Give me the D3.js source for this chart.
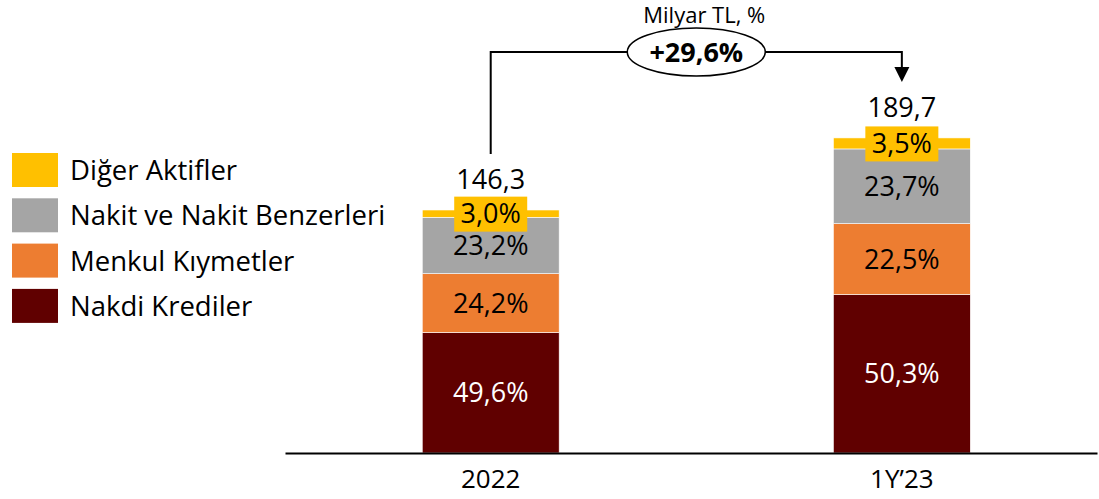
<!DOCTYPE html>
<html>
<head>
<meta charset="utf-8">
<script src="https://cdn.jsdelivr.net/npm/d3@7"></script>
<style>
  html, body { margin: 0; padding: 0; background: #fff; }
  text { font-family: "Open Sans", "Noto Sans", sans-serif; }
</style>
</head>
<body>
<svg id="chart" width="1099" height="499"></svg>
<script>
// chart data
const categories = ["2022", "1Y’23"];
const totals = [146.3, 189.7];
const seriesNames = ["Nakdi Krediler", "Menkul Kıymetler", "Nakit ve Nakit Benzerleri", "Diğer Aktifler"];
const nakdiKrediler = [49.6, 50.3];
const menkulKiymetler = [24.2, 22.5];
const nakitBenzerleri = [23.2, 23.7];
const digerAktifler = [3.0, 3.5];
const seriesColors = ["#600000", "#ED7D31", "#A5A5A5", "#FFC000"];
const unitLabel = "Milyar TL, %";
const growthLabel = "+29,6%";

const shares = [nakdiKrediler, menkulKiymetler, nakitBenzerleri, digerAktifler];

const tr = d3.formatLocale({decimal: ",", thousands: ".", grouping: [3], currency: ["", " TL"]});
const fmt1 = tr.format(".1f");

// rows for d3.stack: amount of each series = total * share
const rows = categories.map((c, i) => {
    let row = {cat: c, total: totals[i]};
    seriesNames.forEach((s, j) => {
        row[s] = totals[i] * shares[j][i] / 100;
        row[s + "_pct"] = shares[j][i];
    });
    return row;
});

const stacked = d3.stack().keys(seriesNames)(rows);

const svg = d3.select("#chart");
const baseY = 453;

const x = d3.scaleBand()
    .domain(categories)
    .range([285, 1097])
    .paddingInner(0.667)
    .paddingOuter(0.321)
    .align(0.52);

const y = d3.scaleLinear()
    .domain([0, 200])
    .range([baseY, baseY - 332.2]);

const color = d3.scaleOrdinal().domain(seriesNames).range(seriesColors);

// bars
const layer = svg.append("g").selectAll("g")
    .data(stacked)
    .join("g")
    .attr("fill", d => color(d.key));

layer.selectAll("rect")
    .data(d => d)
    .join("rect")
    .attr("x", d => x(d.data.cat))
    .attr("y", d => y(d[1]))
    .attr("width", x.bandwidth())
    .attr("height", d => y(d[0]) - y(d[1]))
    .attr("stroke", "#fff")
    .attr("stroke-width", 0.6);

// segment labels
stacked.forEach(s => {
    s.forEach(d => {
        const cx = x(d.data.cat) + x.bandwidth() / 2;
        const cy = (y(d[0]) + y(d[1])) / 2;
        const label = fmt1(d.data[s.key + "_pct"]) + "%";
        if (s.key === "Diğer Aktifler") {
            svg.append("rect")
                .attr("x", cx - 36.5)
                .attr("y", cy - 17)
                .attr("width", 73)
                .attr("height", 35)
                .attr("fill", color(s.key));
        }
        svg.append("text")
            .attr("x", cx)
            .attr("y", cy)
            .attr("dy", "0.36em")
            .attr("text-anchor", "middle")
            .attr("font-size", 27)
            .attr("fill", s.key === "Nakdi Krediler" ? "#fff" : "#000")
            .text(label);
    });
});

// totals
svg.append("g").selectAll("text")
    .data(rows)
    .join("text")
    .attr("x", d => x(d.cat) + x.bandwidth() / 2)
    .attr("y", d => y(d.total) - 21)
    .attr("text-anchor", "middle")
    .attr("font-size", 27)
    .attr("fill", "#000")
    .text(d => fmt1(d.total));

// baseline + category axis
const xAxis = svg.append("g")
    .attr("transform", `translate(0,${baseY})`)
    .call(d3.axisBottom(x).tickSize(0).tickPadding(17));
xAxis.select(".domain").attr("stroke", "#000").attr("stroke-width", 2);
xAxis.selectAll(".tick text")
    .attr("font-size", 26)
    .attr("font-family", "'Open Sans', sans-serif")
    .attr("fill", "#000");

// growth connector
const x0 = x(categories[0]) + x.bandwidth() / 2;
const x1 = x(categories[1]) + x.bandwidth() / 2;
const lineY = 52;
const ex = (x0 + x1) / 2, rx = 69, ry = 24;
const yEnd0 = y(totals[0]) - 56;
const yEnd1 = y(totals[1]) - 56;

svg.append("path")
    .attr("d", `M${x0},${yEnd0} V${lineY} H${ex - rx}`)
    .attr("fill", "none")
    .attr("stroke", "#000")
    .attr("stroke-width", 2);
svg.append("path")
    .attr("d", `M${ex + rx},${lineY} H${x1} V${yEnd1 - 14}`)
    .attr("fill", "none")
    .attr("stroke", "#000")
    .attr("stroke-width", 2);
svg.append("path")
    .attr("d", `M${x1 - 7.5},${yEnd1 - 15} L${x1 + 7.5},${yEnd1 - 15} L${x1},${yEnd1} Z`)
    .attr("fill", "#000");

svg.append("ellipse")
    .attr("cx", ex)
    .attr("cy", lineY)
    .attr("rx", rx)
    .attr("ry", ry)
    .attr("fill", "#fff")
    .attr("stroke", "#000")
    .attr("stroke-width", 1.5);

svg.append("text")
    .attr("x", ex)
    .attr("y", lineY)
    .attr("dy", "0.36em")
    .attr("text-anchor", "middle")
    .attr("font-size", 27)
    .attr("font-weight", "bold")
    .text(growthLabel);

svg.append("text")
    .attr("x", ex + 8)
    .attr("y", 23)
    .attr("text-anchor", "middle")
    .attr("font-size", 22)
    .text(unitLabel);

// legend (top-to-bottom reverse of stack order)
const legendItems = seriesNames.slice().reverse();
const legend = svg.append("g").selectAll("g")
    .data(legendItems)
    .join("g")
    .attr("transform", (d, i) => `translate(12,${153 + i * 45.3})`);

legend.append("rect")
    .attr("width", 46)
    .attr("height", 34)
    .attr("fill", d => color(d));

legend.append("text")
    .attr("x", 58)
    .attr("y", 17)
    .attr("dy", "0.36em")
    .attr("font-size", 27.5)
    .attr("fill", "#000")
    .text(d => d);
</script>
</body>
</html>
